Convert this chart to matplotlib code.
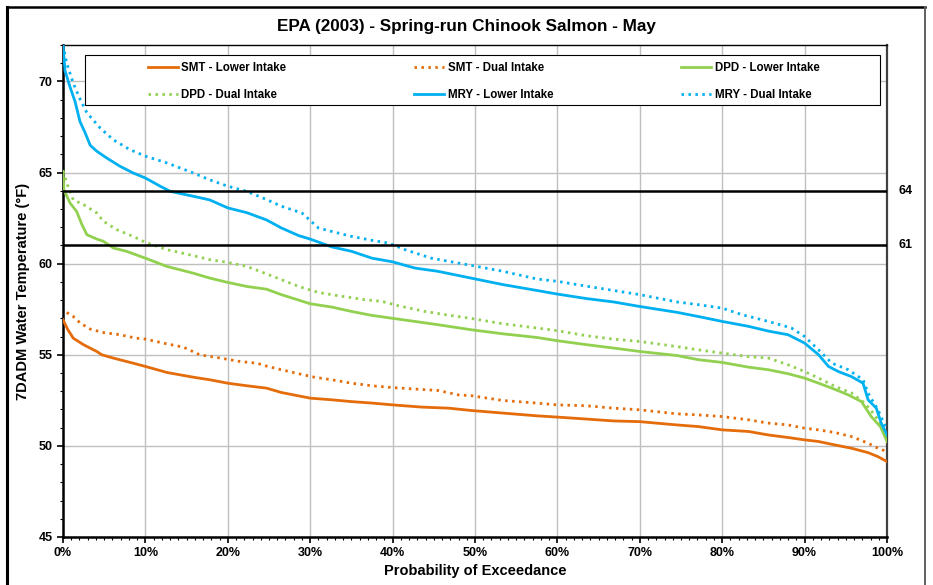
import matplotlib
matplotlib.use("Agg")
import matplotlib.pyplot as plt
from matplotlib.lines import Line2D
from matplotlib.patches import Rectangle
from matplotlib.ticker import MultipleLocator, PercentFormatter

plt.rcParams['font.family'] = ['Liberation Sans', 'DejaVu Sans']

title = "EPA (2003) - Spring-run Chinook Salmon - May"
xlabel = "Probability of Exceedance"
ylabel = "7DADM Water Temperature (°F)"

# exceedance (%) and temperature (°F)
smt_lower_x = [0, 0.6, 1.25, 2.5, 4.1, 4.7, 6.1, 8.5, 10, 12.6, 15.8, 17.8, 20, 22.3, 24.7,
               26.5, 30, 32.6, 35, 37.5, 40, 43.5, 46.8, 49.6, 53.4, 57.5, 60, 63.6, 66.8,
               70, 74.5, 77.1, 80, 83.2, 85.6, 88, 90, 91.7, 93.7, 95.7, 97.7, 98.9, 100]
smt_lower_y = [56.92, 56.37, 55.91, 55.55, 55.18, 55.0, 54.82, 54.54, 54.36, 54.03, 53.77,
               53.63, 53.44, 53.3, 53.17, 52.93, 52.62, 52.53, 52.43, 52.35, 52.25, 52.13,
               52.07, 51.94, 51.8, 51.65, 51.58, 51.47, 51.37, 51.33, 51.15, 51.06, 50.88,
               50.79, 50.6, 50.46, 50.33, 50.24, 50.05, 49.87, 49.63, 49.41, 49.14]

smt_dual_x = [0.45, 1.25, 2.1, 3.3, 4.9, 6.9, 8.9, 10, 12.6, 14.6, 16.6, 19.1, 21.5, 23.5,
              24.7, 26.5, 28.6, 30.6, 32.6, 35, 37.5, 40, 42.7, 45.5, 48, 49.6, 53.4, 57.5,
              60, 63.6, 66.8, 70, 74.5, 77.1, 80, 83.2, 85.6, 88, 90, 91.7, 93.7, 95.7,
              97.7, 98.9, 100]
smt_dual_y = [57.32, 57.1, 56.74, 56.41, 56.22, 56.1, 55.91, 55.86, 55.6, 55.42, 55.0,
              54.82, 54.63, 54.54, 54.38, 54.18, 53.96, 53.76, 53.63, 53.44, 53.3, 53.2,
              53.12, 53.04, 52.8, 52.75, 52.49, 52.35, 52.25, 52.2, 52.07, 51.98, 51.76,
              51.7, 51.61, 51.43, 51.25, 51.15, 50.97, 50.88, 50.73, 50.51, 50.15, 49.87,
              49.69]

dpd_lower_x = [0, 0.1, 0.85, 1.65, 2.3, 2.9, 4.1, 4.9, 6.1, 7.7, 10, 12.6, 15.8, 17.8, 20,
               22.3, 24.7, 26.5, 30, 32.6, 35, 37.5, 40, 42.7, 45.5, 49.6, 53.4, 57.5, 60,
               63.6, 66.8, 70, 74.5, 77.1, 80, 83.2, 85.6, 88, 90, 91.7, 93.3, 95.3, 96.9,
               98.1, 99.2, 100]
dpd_lower_y = [65.07, 64.07, 63.33, 62.87, 62.14, 61.59, 61.35, 61.23, 60.86, 60.68, 60.3,
               59.85, 59.48, 59.21, 58.97, 58.75, 58.6, 58.3, 57.8, 57.62, 57.38, 57.16,
               57.0, 56.83, 56.65, 56.37, 56.15, 55.95, 55.77, 55.55, 55.37, 55.18, 54.96,
               54.73, 54.58, 54.32, 54.18, 53.96, 53.72, 53.44, 53.17, 52.8, 52.43, 51.6,
               51.06, 50.24]

dpd_dual_x = [0, 0.6, 1.25, 2.5, 4.1, 4.9, 6.5, 8.5, 10, 12.6, 15.8, 17.8, 20, 22.3, 24.7,
              26.5, 28.6, 31, 33.4, 36.7, 38.7, 40.7, 43.9, 46.4, 49.6, 53.4, 57.5, 60,
              63.6, 66.8, 70, 74.5, 77.1, 80, 83.2, 85.6, 88, 90, 91.7, 93.7, 95.7, 97.3,
              98.5, 99.6, 100]
dpd_dual_y = [65.07, 64.25, 63.5, 63.24, 62.78, 62.33, 61.87, 61.5, 61.17, 60.77, 60.44,
              60.22, 60.07, 59.85, 59.44, 59.12, 58.75, 58.42, 58.24, 58.02, 57.93, 57.69,
              57.38, 57.2, 56.99, 56.7, 56.47, 56.32, 56.04, 55.86, 55.73, 55.45, 55.27,
              55.09, 54.9, 54.82, 54.45, 54.08, 53.72, 53.26, 52.9, 52.35, 51.7, 50.88,
              50.51]

mry_lower_x = [0, 0.24, 0.85, 1.46, 2.06, 2.67, 3.3, 4.1, 5.3, 6.9, 8.5, 10, 11.8, 13, 15.8,
               17.8, 20, 22.3, 24.7, 26.5, 28.6, 30, 32.6, 35, 37.5, 40, 42.7, 45.5, 49.6,
               53.4, 57.5, 60, 63.6, 66.8, 70, 74.5, 77.1, 80, 83.2, 85.6, 88, 90, 91.7,
               92.9, 94.1, 95.7, 97.1, 97.7, 98.7, 99.3, 100]
mry_lower_y = [72.0, 70.6, 69.7, 68.9, 67.8, 67.2, 66.5, 66.17, 65.8, 65.35, 64.98, 64.7,
               64.25, 63.97, 63.7, 63.5, 63.06, 62.8, 62.4, 61.96, 61.54, 61.35, 60.92,
               60.68, 60.3, 60.1, 59.76, 59.58, 59.2, 58.85, 58.53, 58.33, 58.08, 57.9,
               57.65, 57.33, 57.1, 56.83, 56.56, 56.3, 56.1, 55.64, 55.0, 54.36, 54.08,
               53.8, 53.44, 52.53, 52.07, 51.25, 50.6]

mry_dual_x = [0, 0.45, 1.25, 2.1, 2.9, 4.5, 6.1, 8.1, 10, 12.6, 15.8, 17.8, 20, 22.3, 24.7,
              26.5, 29, 31, 32.6, 35, 37.5, 39.5, 41.5, 44.7, 49.6, 53.4, 57.5, 60, 63.6,
              66.8, 70, 74.5, 77.1, 80, 82.4, 85.6, 88.4, 90, 91.7, 93.3, 95.3, 97.1, 97.7,
              98.9, 100]
mry_dual_y = [72.0, 71.0, 69.9, 69.0, 68.28, 67.45, 66.8, 66.26, 65.9, 65.53, 64.98, 64.6,
              64.25, 63.97, 63.52, 63.15, 62.78, 61.96, 61.77, 61.5, 61.28, 61.13, 60.77,
              60.3, 59.9, 59.58, 59.16, 59.03, 58.76, 58.53, 58.3, 57.9, 57.75, 57.56,
              57.2, 56.83, 56.47, 56.0, 55.27, 54.54, 54.18, 53.63, 52.9, 51.98, 50.88]

thresholds = [64, 61]
threshold_labels = ["64", "61"]

W, H = 933, 585
fig = plt.figure(figsize=(W / 100, H / 100), dpi=100)
ax = fig.add_axes([63 / W, 1 - 537 / H, (887 - 63) / W, (537 - 45) / H])

ORANGE = "#E46C0A"
GREEN = "#92D050"
BLUE = "#00B0F0"
dot = (0, (0.9, 1.6))

ax.grid(True, which="major", color="#BFBFBF", linewidth=1.0, zorder=0)
ax.set_axisbelow(True)

l1, = ax.plot(smt_lower_x, smt_lower_y, color=ORANGE, lw=2.0, zorder=3)
l2, = ax.plot(smt_dual_x, smt_dual_y, color=ORANGE, lw=2.0, ls=dot, zorder=3)
l3, = ax.plot(dpd_lower_x, dpd_lower_y, color=GREEN, lw=2.0, zorder=3)
l4, = ax.plot(dpd_dual_x, dpd_dual_y, color=GREEN, lw=2.0, ls=dot, zorder=3)
l5, = ax.plot(mry_lower_x, mry_lower_y, color=BLUE, lw=2.0, zorder=3)
l6, = ax.plot(mry_dual_x, mry_dual_y, color=BLUE, lw=2.0, ls=dot, zorder=3)

for t, lab in zip(thresholds, threshold_labels):
    ax.axhline(t, color="black", lw=1.8, zorder=4)
    ax.annotate(lab, xy=(1, t), xycoords=("axes fraction", "data"),
                xytext=(8, 0), textcoords="offset points",
                ha="left", va="center", fontsize=9, fontweight="bold")

ax.set_xlim(0, 100)
ax.set_ylim(45, 72)
ax.xaxis.set_major_locator(MultipleLocator(10))
ax.xaxis.set_minor_locator(MultipleLocator(1))
ax.xaxis.set_major_formatter(PercentFormatter(100, decimals=0))
ax.yaxis.set_major_locator(MultipleLocator(5))
ax.yaxis.set_minor_locator(MultipleLocator(1))
ax.tick_params(axis="both", which="major", length=4, width=1.2, labelsize=9,
               direction="out", color="black")
ax.tick_params(axis="both", which="minor", length=2.5, width=0.8, direction="out")
for lab in ax.get_xticklabels() + ax.get_yticklabels():
    lab.set_fontweight("bold")

for s in ["left", "bottom"]:
    ax.spines[s].set_linewidth(1.8)
    ax.spines[s].set_color("black")
ax.spines["top"].set_linewidth(1.0)
ax.spines["top"].set_color("black")
ax.spines["right"].set_linewidth(1.6)
ax.spines["right"].set_color("#404040")

ax.set_xlabel(xlabel, fontsize=10.5, fontweight="bold", labelpad=3)
ax.set_ylabel(ylabel, fontsize=10.5, fontweight="bold", labelpad=6)
fig.text(0.5, 1 - 27 / H, title, ha="center", va="center", fontsize=12.3, fontweight="bold")

# legend frame + legend
frame = Rectangle((85 / W, 1 - 105 / H), (880 - 85) / W, (105 - 55) / H,
                  transform=fig.transFigure, facecolor="white", edgecolor="black",
                  lw=0.8, zorder=5)
fig.add_artist(frame)
handles = [l1, l4, l2, l5, l3, l6]
labels = ["SMT - Lower Intake", "DPD - Dual Intake", "SMT - Dual Intake",
          "MRY - Lower Intake", "DPD - Lower Intake", "MRY - Dual Intake"]
leg = fig.legend(handles, labels, ncol=3, loc="upper left",
                 bbox_to_anchor=(148 / W, 1 - 62 / H), frameon=False,
                 prop={"weight": "bold", "size": 8.3}, handlelength=2.6,
                 handletextpad=0.3, columnspacing=11.1, labelspacing=1.3,
                 borderpad=0.0, borderaxespad=0.0)
leg.set_zorder(6)

# outer figure border
fig.add_artist(Line2D([7 / W, 7 / W], [0, 1 - 7 / H], transform=fig.transFigure,
                      color="black", lw=2.2))
fig.add_artist(Line2D([7 / W, 925 / W], [1 - 7 / H, 1 - 7 / H], transform=fig.transFigure,
                      color="black", lw=1.8))
fig.add_artist(Line2D([925 / W, 925 / W], [0, 1 - 7 / H], transform=fig.transFigure,
                      color="#606060", lw=1.4))

fig.savefig("out.png", dpi=100)
